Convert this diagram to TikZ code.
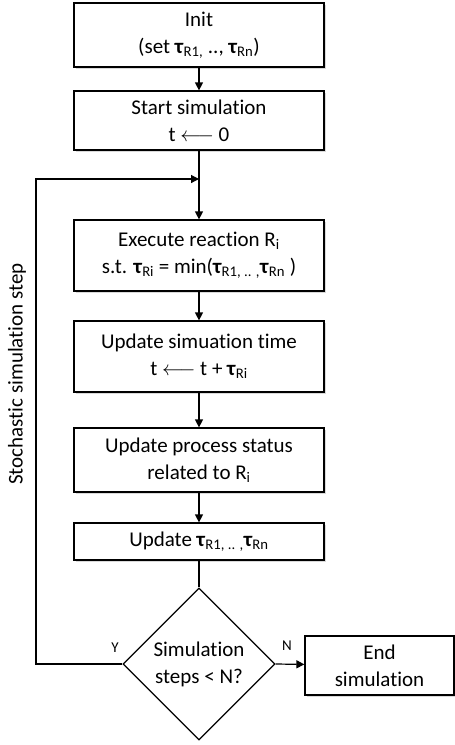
\documentclass[tikz,border=0pt]{standalone}
\usepackage{fontspec}
\setmainfont{Carlito}[Ligatures=NoCommon]
\usetikzlibrary{arrows.meta,shapes.geometric,shadows}
\newcommand\tb{\textbf{τ}}
\newcommand\sbs[1]{\textsubscript{#1}}
\begin{document}
\begin{tikzpicture}[x=1pt,y=-1pt,
  every node/.style={font=\fontsize{21}{27}\selectfont},
  box/.style={draw,line width=1.2pt,fill=white,minimum width=250pt,align=center,inner sep=0pt,
     drop shadow={opacity=0.3,shadow xshift=1.5pt,shadow yshift=-1.5pt}},
  dec/.style={draw,line width=1.2pt,shape=diamond,fill=white,minimum width=152pt,minimum height=152pt,inner sep=0pt,align=center},
  lbl/.style={font=\fontsize{15}{18}\selectfont},
  conn/.style={line width=1.2pt},
  arr/.style={conn,-{Triangle[length=8pt,width=8pt]}}]
\useasboundingbox (0,0) rectangle (455,745);
\node[box,minimum height=64pt] (init) at (199,35) {Init\\(set \tb\sbs{R1,} .., \tb\sbs{Rn})};
\node[box,minimum height=59pt] (start) at (199,120.5) {Start simulation\\t $\longleftarrow$ 0};
\node[box,minimum height=71pt] (exec) at (199,255.5) {Execute reaction R\sbs{i}\\s.t. \tb\sbs{Ri} = min(\tb\sbs{R1, .. ,}\tb\sbs{Rn} )};
\node[box,minimum height=71pt] (time) at (199,356.5) {Update simuation time\\t $\longleftarrow$ t + \tb\sbs{Ri}};
\node[box,minimum height=64pt] (proc) at (199,460) {Update process status\\related to R\sbs{i}};
\node[box,minimum height=37pt] (upd) at (199,541.5) {Update \tb\sbs{R1, .. ,}\tb\sbs{Rn}};
\node[dec] (dia) at (199,664) {Simulation\\steps < N?};
\node[box,minimum width=149pt,minimum height=59pt] (end) at (379.5,665.5) {End\\simulation};
\coordinate (join) at (199,179);
\coordinate (loopx) at (36,179);
\node[lbl] (ylab) at (115,648) {Y};
\node[lbl] (nlab) at (287,646) {N};
\node[rotate=90] (side) at (17,374) {Stochastic simulation step};
\draw[arr] (init) -- (start);
\draw[arr] (start) -- (exec);
\draw[arr] (dia.west) -| (loopx) -- (join);
\draw[arr] (exec) -- (time);
\draw[arr] (time) -- (proc);
\draw[arr] (proc) -- (upd);
\draw[conn] (upd) -- (dia);
\draw[arr] (dia.east) -- (end);
\end{tikzpicture}
\end{document}
